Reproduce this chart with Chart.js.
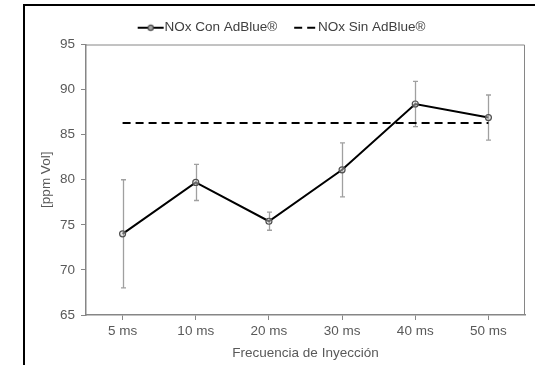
<!DOCTYPE html>
<html>
<head>
<meta charset="utf-8">
<script src="https://cdn.jsdelivr.net/npm/chart.js@4.4.1/dist/chart.umd.min.js"></script>
<style>
  html, body { margin: 0; padding: 0; background: #fff; overflow: hidden; }
  #wrap { position: relative; width: 535px; height: 365px; }
  #frame { position: absolute; left: 23px; top: 4px; width: 600px; height: 500px; border: 2px solid #000; box-sizing: border-box; }
  canvas { position: absolute; left: 0; top: 0; }
</style>
</head>
<body>
<div id="wrap">
  <div id="frame"></div>
  <canvas id="c" width="535" height="365"></canvas>
</div>
<script>
// ── DATOS ─────────────────────────────────────────────
const CATEGORIES = ['5 ms', '10 ms', '20 ms', '30 ms', '40 ms', '50 ms'];
const NOX_CON    = [74.0, 79.7, 75.4, 81.1, 88.4, 86.9];
const NOX_ERR    = [6.0, 2.0, 1.0, 3.0, 2.5, 2.5];
const NOX_SIN    = [86.3, 86.3, 86.3, 86.3, 86.3, 86.3];
const Y_TICKS    = [65, 70, 75, 80, 85, 90, 95];

const AXIS_GRAY = '#868686';
const TEXT_GRAY = '#595959';
const FONT = 'Liberation Sans, Arial, sans-serif';
const FS = 13.5;
const PAD_LEFT = 38;

// símbolos de leyenda (línea + marcador / línea discontinua)
// el lienzo es más ancho que la caja para que el trazo llegue hasta el texto
const BOX_W = 20;
function legendIcon(dashed) {
  const cv = document.createElement('canvas');
  cv.width = 52; cv.height = 10;
  const g = cv.getContext('2d');
  const x0 = dashed ? 19 : 16, x1 = dashed ? 40 : 42;
  g.strokeStyle = '#000';
  g.lineWidth = 2;
  if (dashed) g.setLineDash([8, 5]);
  g.beginPath(); g.moveTo(x0, 5); g.lineTo(x1, 5); g.stroke();
  if (!dashed) {
    g.setLineDash([]);
    g.lineWidth = 1.2;
    g.strokeStyle = '#444';
    g.fillStyle = '#aaa';
    g.beginPath(); g.arc((x0 + x1) / 2, 5, 2.6, 0, Math.PI * 2); g.fill(); g.stroke();
  }
  return cv;
}
const ICONS = [legendIcon(false), legendIcon(true)];

// ── PLUGINS ───────────────────────────────────────────
const plotBox = {
  id: 'plotBox',
  beforeDatasetsDraw(chart) {
    const { ctx, chartArea: a } = chart;
    ctx.save();
    ctx.strokeStyle = AXIS_GRAY;
    ctx.lineWidth = 1;
    ctx.beginPath();
    ctx.moveTo(a.left, a.top + 0.5); ctx.lineTo(a.right - 0.5, a.top + 0.5); ctx.lineTo(a.right - 0.5, a.bottom);
    ctx.stroke();
    ctx.restore();
  }
};

const errorBars = {
  id: 'errorBars',
  beforeDatasetsDraw(chart) {
    const { ctx, scales: { x, y } } = chart;
    ctx.save();
    ctx.strokeStyle = '#a0a0a0';
    ctx.lineWidth = 1.3;
    NOX_CON.forEach((v, i) => {
      const px = Math.round(x.getPixelForValue(i)) + 0.5;
      const top = y.getPixelForValue(v + NOX_ERR[i]);
      const bot = y.getPixelForValue(v - NOX_ERR[i]);
      ctx.beginPath();
      ctx.moveTo(px, top); ctx.lineTo(px, bot);
      ctx.moveTo(px - 2.5, top); ctx.lineTo(px + 2.5, top);
      ctx.moveTo(px - 2.5, bot); ctx.lineTo(px + 2.5, bot);
      ctx.stroke();
    });
    ctx.restore();
  }
};

// ── GRÁFICO ───────────────────────────────────────────
new Chart(document.getElementById('c'), {
  type: 'line',
  data: {
    labels: CATEGORIES,
    datasets: [
      {
        label: 'NOx Con AdBlue®',
        data: NOX_CON,
        borderColor: '#000',
        borderWidth: 2,
        pointRadius: 3,
        pointBorderWidth: 1.2,
        pointBorderColor: '#505050',
        pointBackgroundColor: 'rgba(210,210,210,0.5)',
        tension: 0
      },
      {
        label: 'NOx Sin AdBlue®',
        data: NOX_SIN,
        borderColor: '#000',
        borderWidth: 2,
        borderDash: [8, 5],
        pointRadius: 0,
        tension: 0
      }
    ]
  },
  options: {
    responsive: false,
    animation: false,
    layout: { padding: { left: PAD_LEFT, right: 10, top: 7, bottom: 4 } },
    plugins: {
      tooltip: { enabled: false },
      legend: {
        position: 'top',
        labels: {
          usePointStyle: true,
          pointStyleWidth: BOX_W,
          padding: 14,
          color: '#404040',
          font: { family: FONT, size: FS },
          generateLabels: chart => chart.data.datasets.map((d, i) => ({
            text: d.label,
            pointStyle: ICONS[i],
            fontColor: '#404040',
            lineWidth: 0,
            strokeStyle: 'transparent',
            fillStyle: 'transparent',
            datasetIndex: i
          }))
        }
      }
    },
    scales: {
      x: {
        offset: true,
        grid: { offset: false, drawOnChartArea: false, color: AXIS_GRAY, tickLength: 5 },
        border: { color: AXIS_GRAY, width: 1.5 },
        ticks: { color: TEXT_GRAY, font: { family: FONT, size: FS }, padding: 3, maxRotation: 0 },
        title: { display: true, text: 'Frecuencia de Inyección', color: TEXT_GRAY, font: { family: FONT, size: FS }, padding: { top: 0, bottom: 0 } },
        afterFit: s => { s.height = 365 - 315 - 4; }
      },
      y: {
        min: Y_TICKS[0],
        max: Y_TICKS[Y_TICKS.length - 1],
        afterBuildTicks: s => { s.ticks = Y_TICKS.map(v => ({ value: v })); },
        grid: { drawOnChartArea: false, color: AXIS_GRAY, tickLength: 5 },
        border: { color: AXIS_GRAY, width: 1.5 },
        ticks: { color: TEXT_GRAY, font: { family: FONT, size: FS }, padding: 6 },
        title: { display: true, text: '[ppm Vol]', color: TEXT_GRAY, font: { family: FONT, size: FS }, padding: 0 },
        afterFit: s => { s.width = 86 - PAD_LEFT; }
      }
    }
  },
  plugins: [plotBox, errorBars]
});
</script>
</body>
</html>
